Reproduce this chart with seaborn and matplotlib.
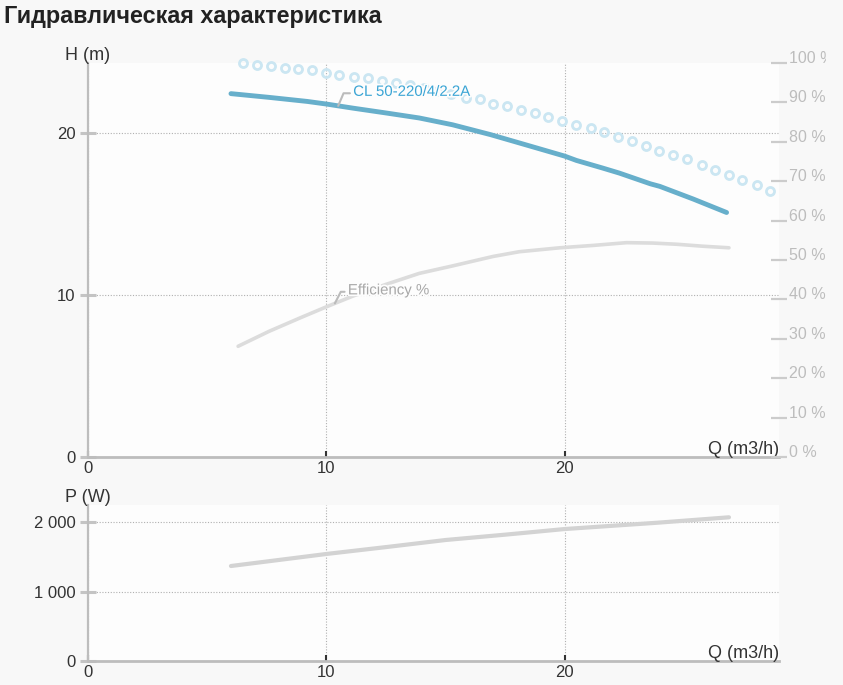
import numpy as np
import matplotlib
matplotlib.use("Agg")
import matplotlib.pyplot as plt
import matplotlib.patheffects as pe
from matplotlib.transforms import Bbox, TransformedBbox
import seaborn as sns

# ---------------- data ----------------
title = "Гидравлическая характеристика"
curve_label = "CL 50-220/4/2.2A"
eff_label = "Efficiency %"
h_axis_label = "H (m)"
p_axis_label = "P (W)"
q_axis_label = "Q (m3/h)"

# pump head curve (m)
q_head = [6.0, 7.6, 9.2, 10.0, 11.1, 12.5, 13.9, 15.3, 16.9, 18.5, 20.0, 20.5, 21.6, 22.3, 23.6, 24.0, 25.4, 26.8]
head = [22.41, 22.18, 21.93, 21.77, 21.52, 21.22, 20.91, 20.49, 19.88, 19.20, 18.56, 18.29, 17.82, 17.51, 16.85, 16.69, 15.91, 15.08]

# dotted (circle) head curve (m)
q_max = [6.51, 7.09, 7.67, 8.25, 8.83, 9.41, 9.98, 10.55, 11.17, 11.76, 12.34, 12.92, 13.50,
         14.09, 14.68, 15.24, 15.85, 16.44, 17.01, 17.58, 18.16, 18.74, 19.32, 19.90, 20.46,
         21.09, 21.66, 22.25, 22.82, 23.40, 23.97, 24.56, 25.12, 25.76, 26.32, 26.91, 27.46,
         28.06, 28.62]
head_max = [24.29, 24.20, 24.10, 23.98, 23.90, 23.84, 23.67, 23.58, 23.43, 23.35, 23.18, 23.06, 22.94,
            22.78, 22.59, 22.38, 22.17, 22.06, 21.79, 21.62, 21.42, 21.19, 20.97, 20.72, 20.49,
            20.27, 20.04, 19.73, 19.51, 19.18, 18.87, 18.64, 18.35, 18.02, 17.72, 17.41, 17.08,
            16.75, 16.40]

# efficiency curve (%)
q_eff = [6.3, 7.6, 8.9, 10.0, 11.1, 12.5, 13.9, 15.3, 17.0, 18.1, 19.8, 21.2, 22.6, 23.7, 24.7, 25.8, 26.9]
eff = [28.1, 31.9, 35.3, 38.1, 40.8, 43.8, 46.6, 48.5, 50.9, 52.1, 53.1, 53.7, 54.4, 54.3, 54.0, 53.5, 53.1]

# power curve (W)
q_pow = [6.0, 10.0, 12.6, 15.0, 17.6, 20.0, 23.9, 26.9]
power = [1367, 1540, 1643, 1741, 1821, 1899, 1990, 2068]

q_ticks = [0, 10, 20]
h_ticks = [0, 10, 20]
pct_ticks = [0, 10, 20, 30, 40, 50, 60, 70, 80, 90, 100]
pct_tick_labels = ["0 %", "10 %", "20 %", "30 %", "40 %", "50 %", "60 %", "70 %", "80 %", "90 %", "100 %"]
p_ticks = [0, 1000, 2000]
p_tick_labels = ["0", "1 000", "2 000"]

q_curve_label = 10.5
q_eff_label = 10.36

# ---------------- style ----------------
sns.set_style("white")
plt.rcParams["font.family"] = ["Liberation Sans", "DejaVu Sans"]

W, H = 843, 685
BG = "#f8f8f8"
fig = plt.figure(figsize=(W / 100, H / 100), dpi=100, facecolor=BG)


def rect(l, t, r, b):
    return [l / W, 1 - b / H, (r - l) / W, (b - t) / H]


ax = fig.add_axes(rect(88, 63, 779, 457))
axp = fig.add_axes(rect(88, 505, 779, 661))

TXT = "#333333"
SPINE = "#bdbdbd"


def style(a, ylim, yticks, ylabels):
    a.set_facecolor("#fdfdfd")
    a.set_xlim(0, 29)
    a.set_ylim(*ylim)
    a.set_xticks(q_ticks)
    a.set_yticks(yticks, labels=ylabels)
    for s in ["top", "right"]:
        a.spines[s].set_visible(False)
    a.spines["left"].set_color(SPINE)
    a.spines["left"].set_linewidth(1.6)
    a.spines["bottom"].set_color(SPINE)
    a.spines["bottom"].set_linewidth(2.0)
    a.tick_params(axis="x", direction="in", length=4.5, width=1.5, color=TXT,
                  labelsize=12, labelcolor=TXT, pad=3, bottom=True)
    a.tick_params(axis="y", direction="inout", length=12, width=2.2, color="#c4c4c4",
                  labelsize=12, labelcolor=TXT, pad=3, left=True)
    a.grid(True, color="#b0b0b0", linestyle=(0, (1, 1.5)), linewidth=0.8)
    a.set_axisbelow(True)
    a.set_xlabel("")
    a.set_ylabel("")


# ---------------- top chart ----------------
sns.lineplot(x=q_max, y=head_max, ax=ax, linestyle="none", marker="o", markersize=5.8,
             markerfacecolor="none", markeredgecolor="#cbe6f2", markeredgewidth=2.0,
             zorder=3, clip_on=False)
sns.lineplot(x=q_head, y=head, ax=ax, color="#67afcb", linewidth=3.5, zorder=4)
style(ax, (0, 24.3), h_ticks, [str(v) for v in h_ticks])

ax2 = ax.twinx()
sns.lineplot(x=q_eff, y=eff, ax=ax2, color="#dcdcdc", linewidth=2.6)
ax2.set_ylim(0, 100)
ax2.set_yticks(pct_ticks, labels=pct_tick_labels)
ax2.set_ylabel("")
for s in ax2.spines.values():
    s.set_visible(False)
ax2.tick_params(axis="y", direction="inout", length=11, width=1.6, color="#cccccc",
                labelsize=11.5, labelcolor="#bdbdbd", pad=1.5, right=True)
clip = TransformedBbox(Bbox([[0, 0], [826 / W, 1]]), fig.transFigure)
for lab in ax2.get_yticklabels():
    lab.set_verticalalignment("baseline")
    lab.set_clip_on(True)
    lab.set_clip_box(clip)

halo = [pe.withStroke(linewidth=2.5, foreground="#fdfdfd")]
ax.annotate(curve_label,
            xy=(q_curve_label, np.interp(q_curve_label, q_head, head)),
            xytext=(15, 14), textcoords="offset pixels",
            fontsize=10.8, color="#3ba5d5", ha="left", va="center", zorder=6,
            path_effects=halo,
            arrowprops=dict(arrowstyle="-", color="#bbbbbb", lw=1.5, shrinkA=0, shrinkB=0,
                            relpos=(0, 0.4),
                            connectionstyle="angle,angleA=0,angleB=67,rad=0"))
ax2.annotate(eff_label,
             xy=(q_eff_label, np.interp(q_eff_label, q_eff, eff)),
             xytext=(13, 13), textcoords="offset pixels",
             fontsize=10.8, color="#a8a8a8", ha="left", va="center",
             path_effects=halo,
             arrowprops=dict(arrowstyle="-", color="#bbbbbb", lw=1.5, shrinkA=0, shrinkB=0,
                             relpos=(0, 0.4),
                             connectionstyle="angle,angleA=0,angleB=63,rad=0"))

ax.text(0, 1 + (63 - 56) / 394, h_axis_label, transform=ax.transAxes,
        ha="center", va="center", fontsize=13, color=TXT)
ax.text(1, 7 / 394, q_axis_label, transform=ax.transAxes,
        ha="right", va="center", fontsize=13, color=TXT)

# ---------------- bottom chart ----------------
sns.lineplot(x=q_pow, y=power, ax=axp, color="#d3d3d3", linewidth=3.0)
style(axp, (0, 2245), p_ticks, p_tick_labels)
axp.text(0, 1 + (505 - 497) / 156, p_axis_label, transform=axp.transAxes,
         ha="center", va="center", fontsize=13, color=TXT)
axp.text(1, 7 / 156, q_axis_label, transform=axp.transAxes,
         ha="right", va="center", fontsize=13, color=TXT)

# ---------------- title ----------------
fig.text(4 / W, 1 - 16 / H, title, ha="left", va="center", fontsize=16.8,
         fontweight="bold", color="#222222")

fig.savefig("out.png", dpi=100, facecolor=BG)
